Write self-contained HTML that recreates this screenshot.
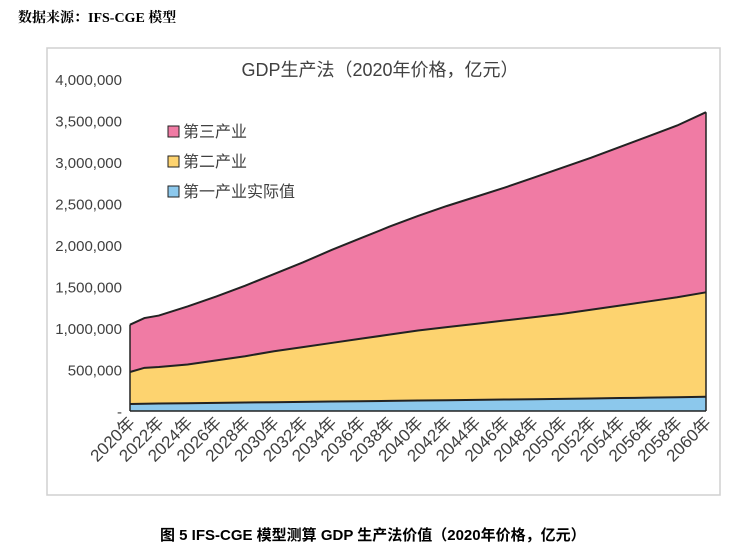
<!DOCTYPE html>
<html><head><meta charset="utf-8"><style>
body{margin:0;width:744px;height:532px;background:#fff;overflow:hidden;position:relative;font-family:"Liberation Sans","Noto Sans CJK SC",sans-serif}
#src{position:absolute;left:18px;top:7px;font-size:14px;font-weight:bold;color:#000;font-family:"Liberation Serif","Noto Serif CJK SC",serif}
#cap{position:absolute;left:160px;top:524px;font-size:15px;font-weight:bold;color:#000}
</style></head><body>
<div id="src">数据来源：IFS-CGE 模型</div>
<div id="cap">图 5 IFS-CGE 模型测算 GDP 生产法价值（2020年价格，亿元）</div>
<svg id="chart" width="744" height="532" style="position:absolute;left:0;top:0">
<rect x="47" y="48" width="673" height="447" fill="none" stroke="#d0d0d0" stroke-width="1.5"/>
<text x="380" y="76" text-anchor="middle" font-size="18" fill="#404040">GDP生产法（2020年价格，亿元）</text>
<g id="areas"></g><g id="yt"></g><g id="xt"></g><g id="legend"></g>
</svg>
<script>
const years=[2020,2021,2022,2024,2026,2028,2030,2032,2034,2036,2038,2040,2042,2044,2046,2048,2050,2052,2054,2056,2058,2060];
const primary=[85000,87000,90000,94000,98000,102000,106000,110000,114000,118000,122000,126000,130000,134000,138000,142000,146000,151000,156000,161000,166000,171000];
const secondary=[385000,433000,440000,466000,512000,558000,614000,660000,706000,752000,798000,844000,880000,916000,952000,988000,1024000,1069000,1114000,1159000,1204000,1259000];
const tertiary=[570000,600000,620000,700000,770000,850000,930000,1020000,1120000,1210000,1300000,1380000,1460000,1530000,1600000,1680000,1760000,1830000,1910000,1990000,2070000,2170000];
const yTicks=[0,500000,1000000,1500000,2000000,2500000,3000000,3500000,4000000];
const yTickLabels=["-","500,000","1,000,000","1,500,000","2,000,000","2,500,000","3,000,000","3,500,000","4,000,000"];
const xTickYears=[2020,2022,2024,2026,2028,2030,2032,2034,2036,2038,2040,2042,2044,2046,2048,2050,2052,2054,2056,2058,2060];
const seriesNames=["第三产业","第二产业","第一产业实际值"];
const NS="http://www.w3.org/2000/svg";
const X=y=>130+(y-2020)*(706-130)/40;
const Y=v=>411-v*(411-79)/4000000;
function mk(t,a){const e=document.createElementNS(NS,t);for(const k in a)e.setAttribute(k,a[k]);return e;}
const cum1=primary.slice(),cum2=primary.map((v,i)=>v+secondary[i]),cum3=cum2.map((v,i)=>v+tertiary[i]);
const layers=[[cum3,cum2,"#f07ba4","area-tertiary"],[cum2,cum1,"#fdd36f","area-secondary"],[cum1,years.map(()=>0),"#8cc8ec","area-primary"]];
const ga=document.getElementById('areas');
layers.forEach(([top,bot,col,name])=>{
 let d=years.map((y,i)=>(i?'L':'M')+X(y)+','+Y(top[i])).join(' ');
 for(let i=years.length-1;i>=0;i--)d+=' L'+X(years[i])+','+Y(bot[i]);
 const p=mk('path',{d:d+'Z',fill:col,stroke:'none'});
 
 
 ga.appendChild(p);
 const l=mk('path',{d:years.map((y,i)=>(i?'L':'M')+X(y)+','+Y(top[i])).join(' '),fill:'none',stroke:'#222',"stroke-width":2});
 
 
 ga.appendChild(l);
});
const ed=mk('path',{d:`M${X(2020)},${Y(0)} L${X(2020)},${Y(cum3[0])} M${X(2060)},${Y(0)} L${X(2060)},${Y(cum3[cum3.length-1])} M${X(2020)},${Y(0)} L${X(2060)},${Y(0)}`,stroke:'#222',"stroke-width":1.5,fill:'none'});


ga.appendChild(ed);
const gy=document.getElementById('yt');
yTicks.forEach((v,i)=>{const t=mk('text',{x:122,y:Y(v)+6,"text-anchor":"end","font-size":15,fill:'#404040'});t.textContent=yTickLabels[i];
 
 
 gy.appendChild(t);});
const gx=document.getElementById('xt');
xTickYears.forEach(y=>{const x=X(y)+6,yy=424;const t=mk('text',{x:x,y:yy,"text-anchor":"end","font-size":17,fill:'#404040',transform:`rotate(-45 ${x} ${yy})`});t.textContent=y+'年';
 
 
 gx.appendChild(t);});
const gl=document.getElementById('legend');
const lc=["#f07ba4","#fdd36f","#8cc8ec"];
seriesNames.forEach((n,i)=>{const y=132+i*30;
 const g=mk('g',{});
 
 
 g.appendChild(mk('rect',{x:168,y:y-6,width:11,height:11,fill:lc[i],stroke:'#222',"stroke-width":1}));
 const t=mk('text',{x:183,y:y+5,"font-size":16,fill:'#404040'});t.textContent=n;g.appendChild(t);gl.appendChild(g);});
</script>
</body></html>
